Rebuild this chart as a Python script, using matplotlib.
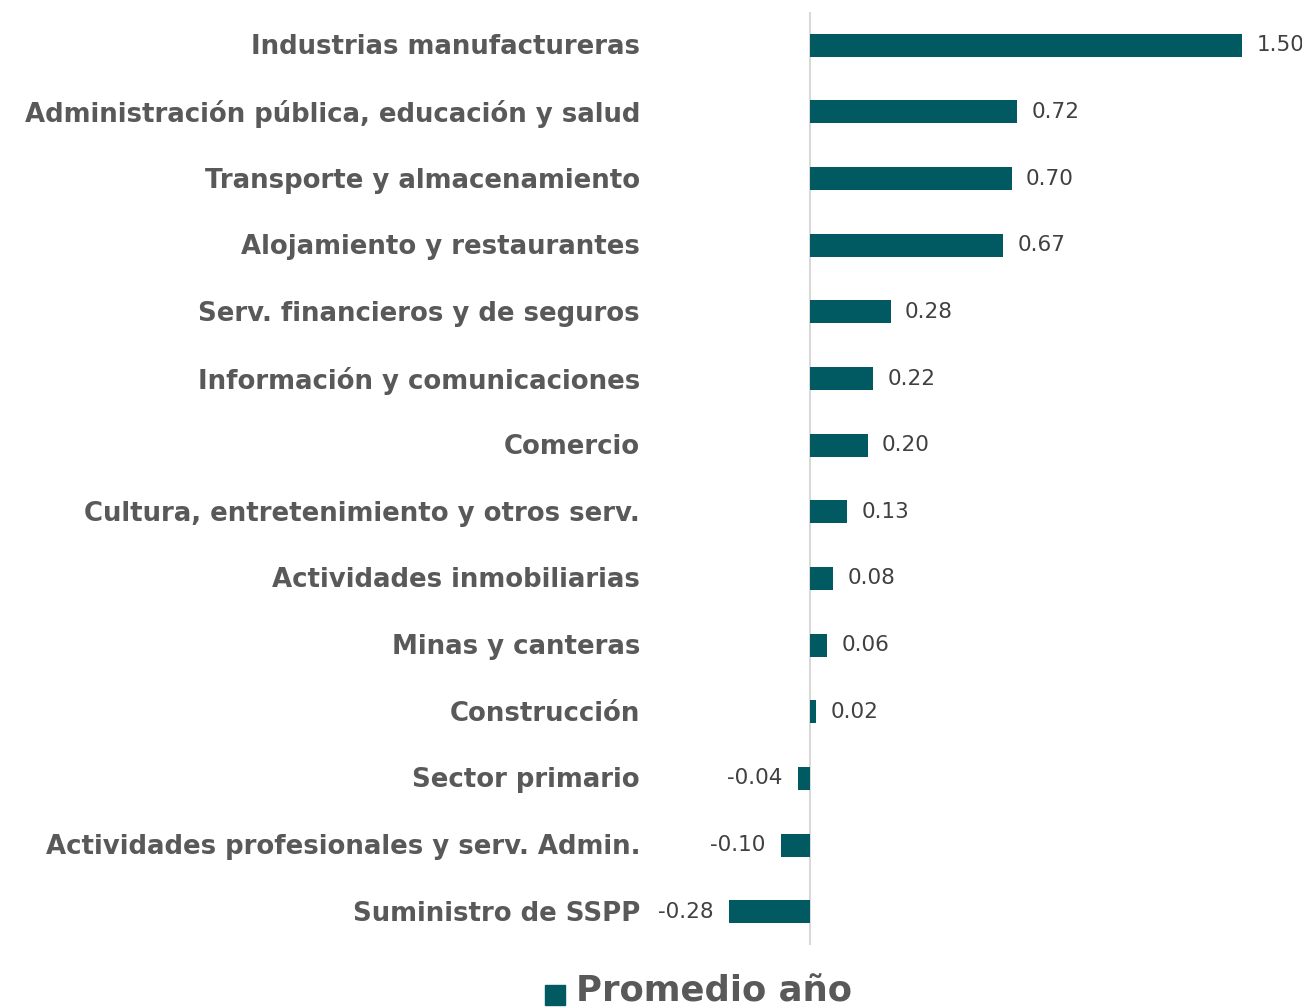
import matplotlib.pyplot as plt
from matplotlib.patches import Rectangle

# datos: contribución por sector
sectores = [
    'Industrias manufactureras',
    'Administración pública, educación y salud',
    'Transporte y almacenamiento',
    'Alojamiento y restaurantes',
    'Serv. financieros y de seguros',
    'Información y comunicaciones',
    'Comercio',
    'Cultura, entretenimiento y otros serv.',
    'Actividades inmobiliarias',
    'Minas y canteras',
    'Construcción',
    'Sector primario',
    'Actividades profesionales y serv. Admin.',
    'Suministro de SSPP',
]
valores = [1.50, 0.72, 0.70, 0.67, 0.28, 0.22, 0.20, 0.13, 0.08, 0.06, 0.02, -0.04, -0.10, -0.28]
etiquetas = ['1.50', '0.72', '0.70', '0.67', '0.28', '0.22', '0.20', '0.13', '0.08', '0.06', '0.02', '-0.04', '-0.10', '-0.28']

color_barra = '#015A62'
gris = '#595959'

fig = plt.figure(figsize=(13.02, 10.08), dpi=100)
ax = fig.add_axes([651 / 1302, 1 - 945 / 1008, 651 / 1302, (945 - 12) / 1008])

y = list(range(len(sectores)))
ax.barh(y, valores, height=0.345, color=color_barra, zorder=2)

ax.set_xlim(-0.552, 1.708)
ax.set_ylim(len(sectores) - 1 + 0.5, -0.5)
ax.axvline(0, color='#d9d9d9', lw=1.5, zorder=1)

for yi, v, t in zip(y, valores, etiquetas):
    if v >= 0:
        ax.text(v + 0.05, yi, t, ha='left', va='center', fontsize=15.5, color='#404040')
    else:
        ax.text(v - 0.055, yi, t, ha='right', va='center', fontsize=15.5, color='#404040')
    ax.text(-0.59, yi + 0.03, sectores[yi], ha='right', va='center', fontsize=18.7,
            fontweight='bold', color=gris, clip_on=False)

for s in ax.spines.values():
    s.set_visible(False)
ax.set_xticks([])
ax.set_yticks([])

# leyenda
fig.patches.append(Rectangle((545 / 1302, 1 - 1005 / 1008), 20 / 1302, 20 / 1008,
                             transform=fig.transFigure, color=color_barra))
fig.text(576 / 1302, 1 - 1002 / 1008, 'Promedio año', fontsize=25.5, fontweight='bold',
         color=gris, ha='left', va='baseline')

fig.savefig('out.png', dpi=100)
